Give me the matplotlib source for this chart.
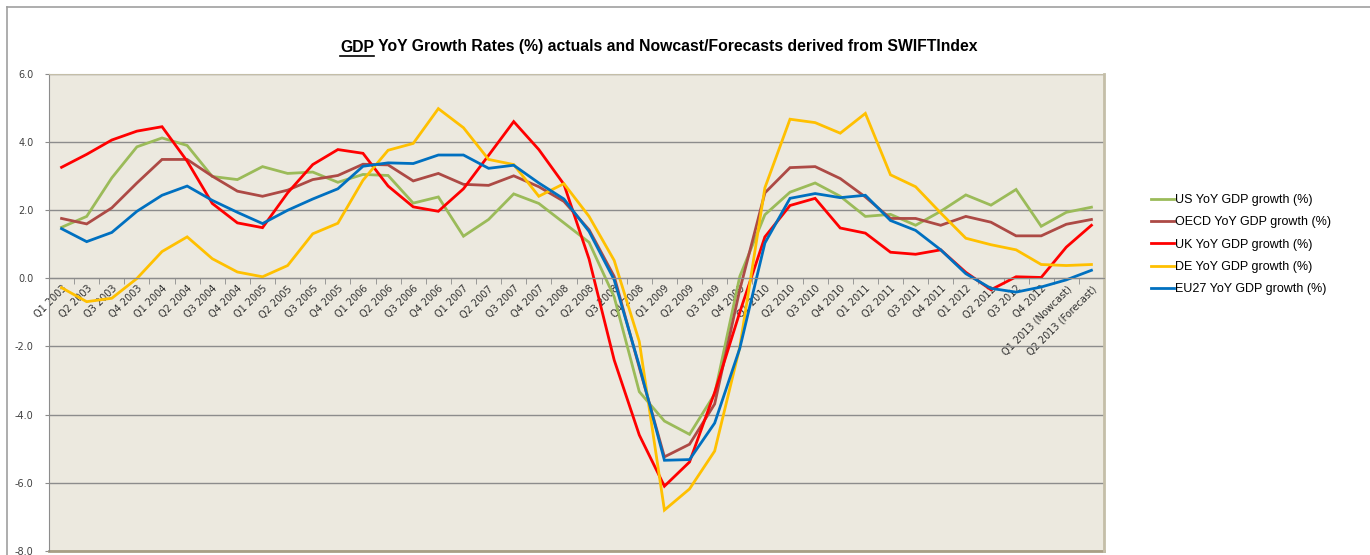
import matplotlib.pyplot as plt
from matplotlib.lines import Line2D

# quarters on the category axis
quarters = ['Q1 2003', 'Q2 2003', 'Q3 2003', 'Q4 2003',
            'Q1 2004', 'Q2 2004', 'Q3 2004', 'Q4 2004',
            'Q1 2005', 'Q2 2005', 'Q3 2005', 'Q4 2005',
            'Q1 2006', 'Q2 2006', 'Q3 2006', 'Q4 2006',
            'Q1 2007', 'Q2 2007', 'Q3 2007', 'Q4 2007',
            'Q1 2008', 'Q2 2008', 'Q3 2008', 'Q4 2008',
            'Q1 2009', 'Q2 2009', 'Q3 2009', 'Q4 2009',
            'Q1 2010', 'Q2 2010', 'Q3 2010', 'Q4 2010',
            'Q1 2011', 'Q2 2011', 'Q3 2011', 'Q4 2011',
            'Q1 2012', 'Q2 2012', 'Q3 2012', 'Q4 2012',
            'Q1 2013 (Nowcast)', 'Q2 2013 (Forecast)']

# YoY GDP growth (%)
us = [1.49, 1.81, 2.94, 3.85, 4.11, 3.89, 2.98, 2.89, 3.27, 3.07, 3.11, 2.81,
      3.04, 3.01, 2.20, 2.38, 1.23, 1.72, 2.47, 2.19, 1.62, 1.05, -0.55, -3.33,
      -4.19, -4.58, -3.40, 0.05, 1.86, 2.52, 2.79, 2.40, 1.81, 1.87, 1.55, 1.96,
      2.44, 2.14, 2.60, 1.52, 1.93, 2.08]
oecd = [1.75, 1.59, 2.06, 2.79, 3.48, 3.48, 2.99, 2.55, 2.40, 2.58, 2.89, 3.01,
        3.34, 3.32, 2.85, 3.07, 2.75, 2.72, 3.00, 2.68, 2.25, 1.42, 0.05, -2.62,
        -5.24, -4.87, -3.69, -0.34, 2.50, 3.24, 3.27, 2.92, 2.38, 1.75, 1.75, 1.55,
        1.81, 1.64, 1.24, 1.24, 1.58, 1.72]
uk = [3.25, 3.63, 4.05, 4.31, 4.44, 3.43, 2.19, 1.62, 1.48, 2.50, 3.33, 3.77,
      3.66, 2.70, 2.09, 1.96, 2.62, 3.60, 4.59, 3.77, 2.75, 0.56, -2.40, -4.60,
      -6.10, -5.39, -3.35, -1.00, 1.21, 2.13, 2.34, 1.47, 1.32, 0.76, 0.70, 0.83,
      0.17, -0.34, 0.04, 0.02, 0.91, 1.55]
de = [-0.28, -0.69, -0.59, -0.01, 0.78, 1.21, 0.57, 0.18, 0.04, 0.37, 1.30, 1.61,
      2.87, 3.75, 3.95, 4.97, 4.41, 3.48, 3.33, 2.40, 2.77, 1.81, 0.52, -1.86,
      -6.80, -6.18, -5.07, -2.03, 2.65, 4.66, 4.56, 4.25, 4.83, 3.03, 2.68, 1.91,
      1.17, 0.98, 0.83, 0.40, 0.37, 0.40]
eu27 = [1.45, 1.07, 1.34, 1.96, 2.43, 2.70, 2.28, 1.93, 1.60, 1.99, 2.32, 2.62,
        3.28, 3.38, 3.36, 3.61, 3.61, 3.22, 3.31, 2.79, 2.32, 1.37, -0.05, -2.57,
        -5.34, -5.32, -4.25, -2.06, 1.03, 2.34, 2.48, 2.36, 2.43, 1.69, 1.40, 0.83,
        0.13, -0.30, -0.41, -0.26, -0.05, 0.23]

series = [('US YoY GDP growth (%)', us, '#9BBB59'),
          ('OECD YoY GDP growth (%)', oecd, '#AD4A45'),
          ('UK YoY GDP growth (%)', uk, '#FF0000'),
          ('DE YoY GDP growth (%)', de, '#FFC000'),
          ('EU27 YoY GDP growth (%)', eu27, '#0070C0')]

fig = plt.figure(figsize=(13.7, 5.55), dpi=100)
ax = fig.add_axes([49 / 1370, 4 / 555, 1055 / 1370, 477.5 / 555])
ax.set_facecolor('#ECE9DF')

x = list(range(len(quarters)))
for name, vals, col in series:
    ax.plot(x, vals, color=col, lw=2.0, label=name, solid_joinstyle='miter')

ax.set_xlim(-0.5, len(quarters) - 0.5)
ax.set_ylim(-8, 6)
ax.set_yticks(range(-8, 7, 2))
ax.set_yticklabels(['%.1f' % v for v in range(-8, 7, 2)], fontsize=7, color='#404040')
ax.yaxis.grid(True, color='#8C8C8C', lw=1)
ax.set_axisbelow(True)
ax.tick_params(axis='y', length=3, color='#8C8C8C', pad=8)

# category axis crosses at zero
ax.spines['bottom'].set_position(('data', 0))
ax.spines['bottom'].set_color('#8C8C8C')
ax.spines['left'].set_color('#8C8C8C')
ax.spines['top'].set_color('#C4BEA8')
ax.spines['right'].set_color('#C4BEA8')
ax.spines['right'].set_linewidth(2)
ax.axhline(-8, color='#A89F85', lw=2, clip_on=False)

ax.set_xticks([i + 0.5 for i in x[:-1]], minor=True)
ax.set_xticks(x)
ax.set_xticklabels(quarters, rotation=45, ha='right', va='top',
                   rotation_mode='anchor', fontsize=7, color='#303030')
ax.tick_params(axis='x', which='major', length=0, pad=4)
ax.tick_params(axis='x', which='minor', length=4, color='#8C8C8C', direction='out')

# title with underlined GDP
ty = 1 - 47 / 555
t1 = fig.text(340 / 1370, ty, 'GDP', fontsize=11.3, fontweight='bold',
              family='Liberation Sans', ha='left', va='center')
fig.canvas.draw()
bb = t1.get_window_extent().transformed(fig.transFigure.inverted())
fig.text(bb.x1, ty,
         ' YoY Growth Rates (%) actuals and Nowcast/Forecasts derived from SWIFTIndex',
         fontsize=11.3, fontweight='bold', family='Liberation Sans',
         ha='left', va='center')
fig.add_artist(Line2D([bb.x0, bb.x1], [bb.y0 - 0.003, bb.y0 - 0.003],
                      color='black', lw=1.2, transform=fig.transFigure))

# outer chart border
fig.add_artist(Line2D([7 / 1370, 1.0], [1 - 7 / 555, 1 - 7 / 555],
                      color='#A0A0A0', lw=1.2, transform=fig.transFigure))
fig.add_artist(Line2D([7 / 1370, 7 / 1370], [0, 1 - 7 / 555],
                      color='#A0A0A0', lw=1.2, transform=fig.transFigure))

fig.legend(loc='upper left', bbox_to_anchor=(1140 / 1370, 1 - 183 / 555),
           frameon=False, handlelength=1.8, handletextpad=0.1,
           labelspacing=0.82, prop={'family': 'Liberation Sans', 'size': 9})

plt.savefig('out.png', dpi=100)
